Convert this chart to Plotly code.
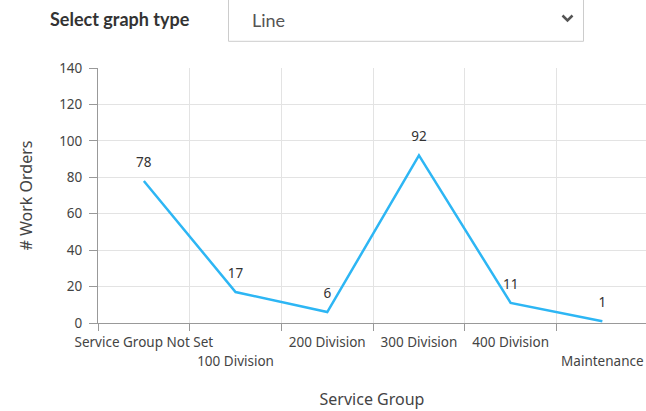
import plotly.graph_objects as go

# Work orders per service group
categories = ["Service Group Not Set", "100 Division", "200 Division",
              "300 Division", "400 Division", "Maintenance"]
work_orders = [78, 17, 6, 92, 11, 1]
y_ticks = [0, 20, 40, 60, 80, 100, 120, 140]

W, H = 646, 411
M_L, M_R, M_T, M_B = 98, 0, 68, 88
PW, PH = W - M_L - M_R, H - M_T - M_B


def px(x):
    """Pixel x -> paper x."""
    return (x - M_L) / PW


def py(y):
    """Pixel y (from top) -> paper y."""
    return (H - M_B - y) / PH


idx = list(range(len(categories)))
# labels that would collide with their neighbours drop to a second row
lower_row = [1, 5]
upper_row = [i for i in idx if i not in lower_row]

fig = go.Figure()
fig.add_trace(go.Scatter(
    x=idx, y=work_orders,
    mode="lines+markers+text",
    line=dict(color="#2db6f4", width=2.5),
    marker=dict(size=16, color="rgba(0,0,0,0)"),
    text=[str(v) for v in work_orders],
    textposition="top center",
    textfont=dict(family="Noto Sans", size=13.5, color="#333333"),
    hoverinfo="skip",
    showlegend=False,
))

axis_font = dict(family="Noto Sans", size=13.5, color="#444444")
grid = "#e3e3e3"
axis_line = "#999999"
x_range = [-0.5, -0.5 + PW / 91.7]

fig.update_layout(
    width=W, height=H,
    margin=dict(l=M_L, r=M_R, t=M_T, b=M_B, pad=0),
    paper_bgcolor="white", plot_bgcolor="white",
    font=dict(family="Noto Sans", color="#444444"),
    xaxis=dict(
        range=x_range, tickmode="array",
        tickvals=upper_row, ticktext=[categories[i] for i in upper_row],
        ticks="", showgrid=False, zeroline=False,
        showline=True, linecolor=axis_line, linewidth=1,
        tickfont=axis_font, ticklabelstandoff=7,
        minor=dict(tickvals=[i - 0.5 for i in idx] + [len(idx) - 0.5],
                   showgrid=True, gridcolor=grid, gridwidth=1,
                   ticks="outside", ticklen=7, tickcolor=axis_line),
        title=dict(text="Service Group", standoff=43,
                   font=dict(family="Noto Sans", size=16, color="#444444")),
        fixedrange=True,
    ),
    xaxis2=dict(
        overlaying="x", matches="x", anchor="y", side="bottom",
        range=x_range, tickmode="array",
        tickvals=lower_row, ticktext=[categories[i] for i in lower_row],
        ticks="", showgrid=False, zeroline=False, showline=False,
        tickfont=axis_font, ticklabelstandoff=28,
        fixedrange=True,
    ),
    yaxis=dict(
        range=[0, 140], tickmode="array", tickvals=y_ticks,
        showgrid=True, gridcolor=grid, zeroline=False,
        showline=True, linecolor=axis_line, linewidth=1,
        ticks="outside", ticklen=8, tickcolor=axis_line,
        tickfont=axis_font, ticklabelstandoff=4,
        title=dict(text="# Work Orders", standoff=22,
                   font=dict(family="Noto Sans", size=16, color="#444444")),
        fixedrange=True,
    ),
)

# Invisible trace so the secondary label axis is drawn
fig.add_trace(go.Scatter(x=idx, y=[None] * len(idx), xaxis="x2",
                         showlegend=False, hoverinfo="skip", mode="markers"))

# Graph type selector above the chart
fig.add_shape(type="rect", xref="paper", yref="paper",
              x0=px(228.5), x1=px(583.5), y0=py(41.3), y1=py(-3),
              line=dict(color="#cccccc", width=1), fillcolor="white", layer="above")
fig.add_shape(type="path", xref="paper", yref="paper",
              path=f"M {px(562.5)},{py(15.5)} L {px(567.5)},{py(20.5)} L {px(572.5)},{py(15.5)}",
              line=dict(color="#555555", width=2.5))
fig.add_annotation(text="<b>Select graph type</b>", xref="paper", yref="paper",
                   x=px(48), y=py(19), xanchor="left", yanchor="middle",
                   showarrow=False, font=dict(family="Lato", size=18, color="#333333"))
fig.add_annotation(text="Line", xref="paper", yref="paper",
                   x=px(250), y=py(20), xanchor="left", yanchor="middle",
                   showarrow=False, font=dict(family="Lato", size=18, color="#555555"))

fig.write_html("out.html", config={"displayModeBar": False})
